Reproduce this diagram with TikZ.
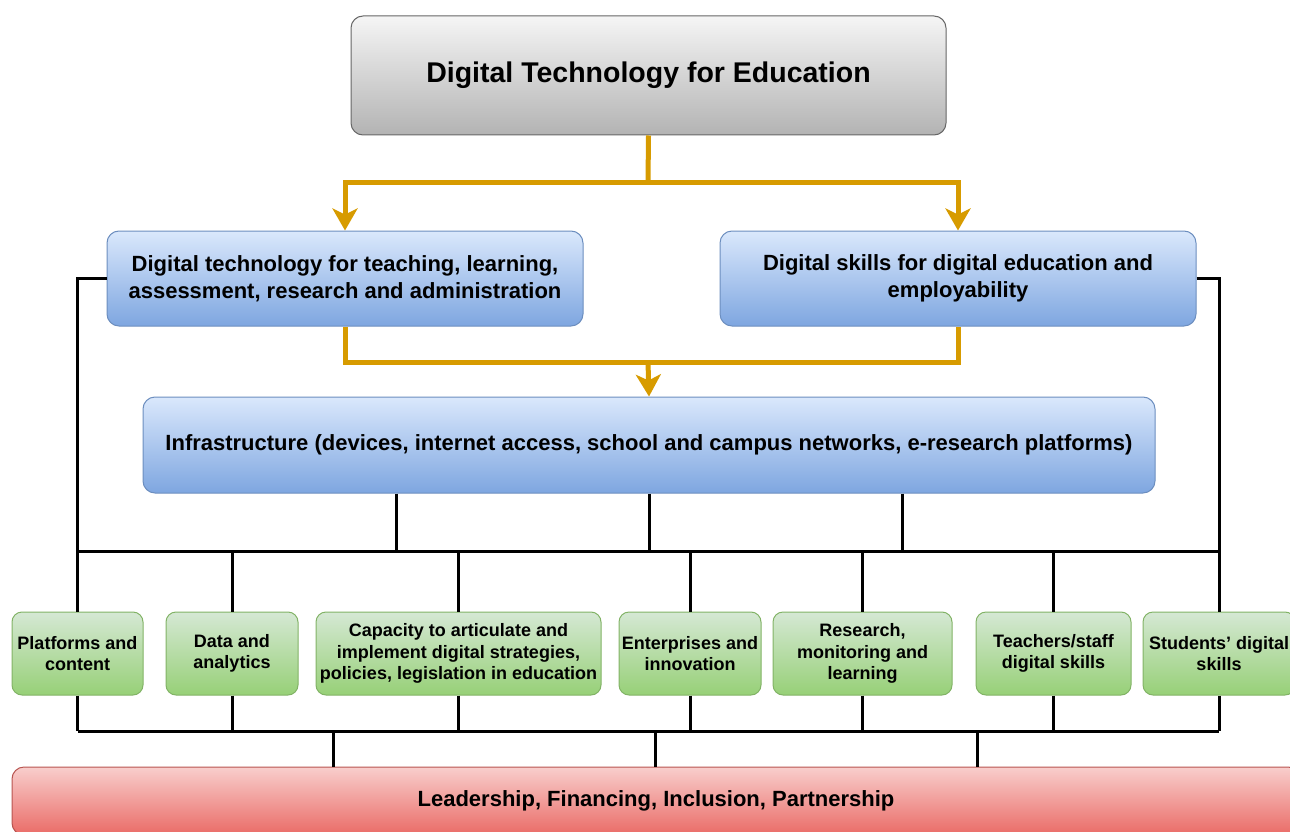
\documentclass[tikz,border=0pt]{standalone}
\usepackage{fontspec}
\setmainfont{Liberation Sans}
\usetikzlibrary{arrows.meta}
\definecolor{titletop}{HTML}{F5F5F5}
\definecolor{titlebottom}{HTML}{B3B3B3}
\definecolor{titleline}{HTML}{666666}
\definecolor{areatop}{HTML}{DAE8FC}
\definecolor{areabottom}{HTML}{7EA6E0}
\definecolor{arealine}{HTML}{6C8EBF}
\definecolor{pillartop}{HTML}{D5E8D4}
\definecolor{pillarbottom}{HTML}{97D077}
\definecolor{pillarline}{HTML}{82B366}
\definecolor{basetop}{HTML}{F8CECC}
\definecolor{basebottom}{HTML}{EA6B66}
\definecolor{baseline}{HTML}{B85450}
\definecolor{flowcolor}{HTML}{D79B00}
\tikzstyle{title box}=[draw=titleline, top color=titletop, bottom color=titlebottom, rounded corners=12pt, line width=1pt, align=center, font=\bfseries\fontsize{28.5}{32}\selectfont]
\tikzstyle{area box}=[draw=arealine, top color=areatop, bottom color=areabottom, rounded corners=12pt, line width=1pt, align=center, font=\bfseries\fontsize{22}{27}\selectfont]
\tikzstyle{pillar box}=[draw=pillarline, top color=pillartop, bottom color=pillarbottom, rounded corners=10pt, line width=1pt, align=center, inner sep=0pt, minimum height=83pt, font=\bfseries\fontsize{18}{21.5}\selectfont]
\tikzstyle{base box}=[draw=baseline, top color=basetop, bottom color=basebottom, rounded corners=12pt, line width=1pt, align=center, font=\bfseries\fontsize{22}{26}\selectfont]
\tikzstyle{flow}=[draw=flowcolor, line width=5pt]
\tikzstyle{flow arrow}=[flow, -{Stealth[length=22pt, width=25pt, inset=6pt]}]
\tikzstyle{link}=[draw=black, line width=3pt]

\begin{document}
\begin{tikzpicture}[x=1pt, y=-1pt]
    \useasboundingbox (0, 0) rectangle (1290, 832);
    \clip (0, 0) rectangle (1290, 832);

    \node[title box, minimum width=595pt, minimum height=119pt] (title) at (648.5, 75.5) {Digital Technology for Education};

    \node[area box, minimum width=476pt, minimum height=95pt] (teach_area) at (345, 278.5) {Digital technology for teaching, learning,\\assessment, research and administration};
    \node[area box, minimum width=476pt, minimum height=95pt] (skill_area) at (958, 278.5) {Digital skills for digital education and\\employability};
    \node[area box, minimum width=1012pt, minimum height=96pt] (infra) at (649, 445) {Infrastructure (devices, internet access, school and campus networks, e-research platforms)};

    \node[pillar box, minimum width=131pt] (plat) at (77.5, 653.5) {Platforms and\\content};
    \node[pillar box, minimum width=132pt] (data) at (232, 653.5) {Data and\\analytics};
    \node[pillar box, minimum width=285pt] (capac) at (458.5, 653.5) {Capacity to articulate and\\implement digital strategies,\\policies, legislation in education};
    \node[pillar box, minimum width=142pt] (enter) at (690, 653.5) {Enterprises and\\innovation};
    \node[pillar box, minimum width=179pt] (resea) at (862.5, 653.5) {Research,\\monitoring and\\learning};
    \node[pillar box, minimum width=155pt] (staff) at (1053.5, 653.5) {Teachers/staff\\digital skills};
    \node[pillar box, minimum width=152pt] (stud) at (1219, 653.5) {Students' digital\\skills};

    \node[base box, minimum width=1288pt, minimum height=68pt] (base) at (656, 801) {Leadership, Financing, Inclusion, Partnership};

    \coordinate (split) at (648, 182);
    \coordinate (merge) at (648, 362);
    \coordinate (bus) at (0, 551);
    \coordinate (base_bus) at (0, 731);

    \draw[flow] (title.south) -- (split);
    \draw[flow arrow] (split) -| (teach_area.north);
    \draw[flow arrow] (split) -| (skill_area.north);
    \draw[flow] (teach_area.south) |- (merge) -| (skill_area.south);
    \draw[flow arrow] (merge) -- (infra.north);

    \draw[link] (teach_area.west) -| (plat.north);
    \draw[link] (skill_area.east) -| (stud.north);
    \draw[link] (plat.north |- bus) -- (stud.north |- bus);
    \foreach \dx in {-253, 0, 253}
        \draw[link] ([xshift=\dx pt]infra.south) -- ([xshift=\dx pt]infra.south |- bus);
    \foreach \n in {data, capac, enter, resea, staff}
        \draw[link] (\n.north |- bus) -- (\n.north);
    \foreach \n in {plat, data, capac, enter, resea, staff, stud}
        \draw[link] (\n.south) -- (\n.south |- base_bus);
    \draw[link] (plat.south |- base_bus) -- (stud.south |- base_bus);
    \foreach \dx in {-323, -1, 321}
        \draw[link] ([xshift=\dx pt]base.north |- base_bus) -- ([xshift=\dx pt]base.north);
  \end{tikzpicture}
\end{document}
